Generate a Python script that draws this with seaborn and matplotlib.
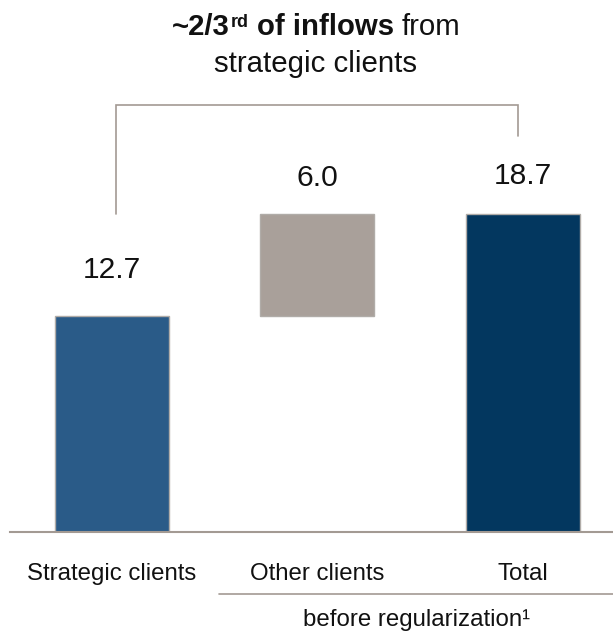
import matplotlib
matplotlib.use("Agg")
import matplotlib.pyplot as plt
import seaborn as sns
import pandas as pd
from matplotlib.lines import Line2D

# ---- data -------------------------------------------------------------
categories = ["Strategic clients", "Other clients", "Total"]
strategic = 12.7
other = 6.0
total = 18.7
values = [strategic, other, total]
bases = [0.0, strategic, 0.0]          # waterfall: "Other" floats on top of "Strategic"
value_labels = ["12.7", "6.0", "18.7"]
bar_colors = ["#2A5B88", "#A9A09A", "#03375F"]
footnote = "before regularization\u00b9"

# ---- style ------------------------------------------------------------
sns.set_theme(style="white")
plt.rcParams["font.family"] = ["Liberation Sans", "DejaVu Sans"]
line_gray = "#A39A93"
text_color = "#111111"

W, H = 613, 631
fig = plt.figure(figsize=(W / 100, H / 100), dpi=100)


def fx(px):
    return px / W


def fy(px):
    return 1 - px / H


# axes placed in pixel terms (left, right, baseline, top)
ax_l, ax_r, ax_b, ax_t = 10, 613, 532, 90
ax = fig.add_axes([fx(ax_l), fy(ax_b), (ax_r - ax_l) / W, (ax_b - ax_t) / H])

df = pd.DataFrame({"category": categories, "value": values})
sns.barplot(data=df, x="category", y="value", order=categories, width=0.555,
            bottom=bases, errorbar=None, color=bar_colors[0], saturation=1,
            linewidth=1.0, edgecolor="#B0ACA8", ax=ax)
for patch, c in zip(ax.patches, bar_colors):
    patch.set_facecolor(c)

ax.set_xlim(-0.496, 2.438)
ax.set_ylim(0, 26)

# value labels above each bar
label_gap_px = [38, 28, 30]
for i, (b, v, lab) in enumerate(zip(bases, values, value_labels)):
    ax.annotate(lab, xy=(i, b + v), xytext=(0, label_gap_px[i]),
                textcoords="offset pixels", ha="center", va="baseline",
                fontsize=21.6, color=text_color)

# bracket linking strategic clients and total
ax.plot([0.02, 0.02, 1.975, 1.975], [18.7, 25.1, 25.1, 23.3],
        color=line_gray, lw=1.2, clip_on=False, solid_joinstyle="miter")

# axis styling
ax.set_xlabel("")
ax.set_ylabel("")
ax.set_yticks([])
ax.set_xticks(range(len(categories)))
ax.set_xticklabels(categories, fontsize=17.3, color=text_color)
ax.tick_params(axis="x", length=0, pad=22)
for side in ["top", "left", "right"]:
    ax.spines[side].set_visible(False)
ax.spines["bottom"].set_color(line_gray)
ax.spines["bottom"].set_linewidth(1.5)

# bracket under "Other clients" and "Total"
fig.add_artist(Line2D([fx(219), fx(613)], [fy(594), fy(594)],
                      color=line_gray, lw=1.2))
fig.text(fx(416), fy(626), footnote, ha="center", va="baseline",
         fontsize=17.3, color=text_color)

# ---- title ------------------------------------------------------------
title_size = 21.2
fig.text(fx(316), fy(72), "strategic clients", ha="center", va="baseline",
         fontsize=title_size, color=text_color)

renderer = fig.canvas.get_renderer()
pieces = [
    ("~2/3", "bold", title_size, 0, 0),
    ("rd", "bold", 13, 8, 1),
    ("of inflows", "bold", title_size, 0, 8),
    ("from", "normal", title_size, 0, 8),
]
texts, widths = [], []
for s, weight, size, rise, gap in pieces:
    t = fig.text(0, 0, s, fontsize=size, fontweight=weight, ha="left",
                 va="baseline", color=text_color)
    widths.append(t.get_window_extent(renderer).width)
    texts.append(t)
total_w = sum(widths) + sum(p[4] for p in pieces)
x = 316 - total_w / 2
for t, w, (s, weight, size, rise, gap) in zip(texts, widths, pieces):
    x += gap
    t.set_position((fx(x), fy(35 + -rise)))
    x += w

fig.savefig("out.png", dpi=100)
